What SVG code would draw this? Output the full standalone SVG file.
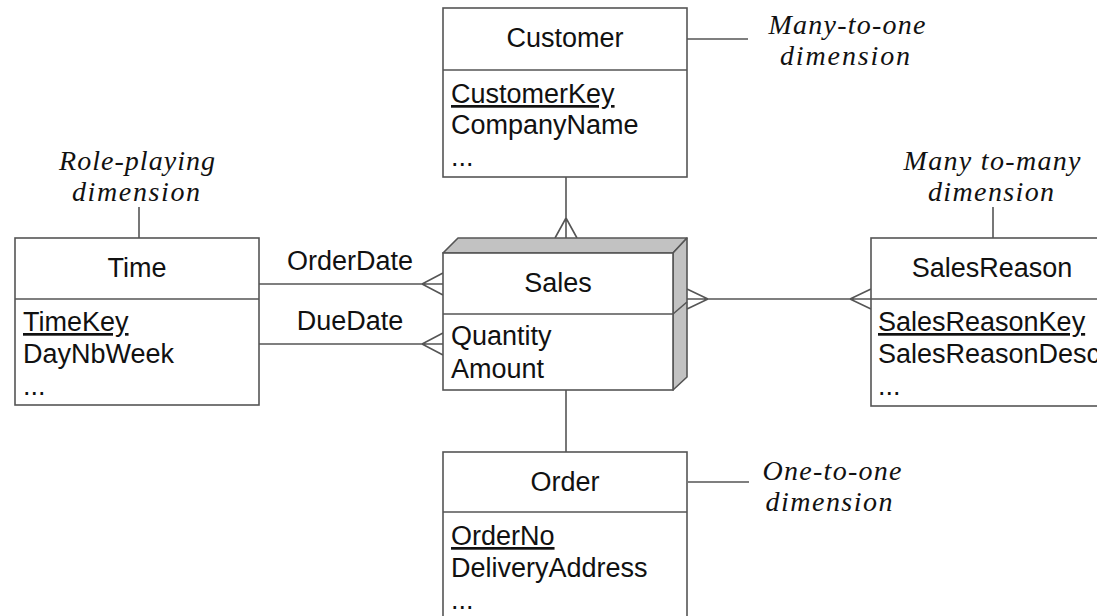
<svg xmlns="http://www.w3.org/2000/svg" width="1097" height="616" viewBox="0 0 1097 616">
<style>
.box{fill:#fff;stroke:#555;stroke-width:1.6}
.ln{fill:none;stroke:#555;stroke-width:1.6}
.t{font-family:"Liberation Sans",Arial,sans-serif;font-size:27px;fill:#111}
.c{text-anchor:middle}
.k{text-decoration:underline}
.n{font-family:"Liberation Serif","Times New Roman",serif;font-style:italic;font-size:28px;fill:#111;text-anchor:middle}
.side{fill:#c2c2c2;stroke:#555;stroke-width:1.6;stroke-linejoin:round}
</style>
<rect width="1097" height="616" fill="#fff"/>
<g id="connectors">
<path class="ln" d="M566,177V238M555,238L566,218L577,238"/>
<path class="ln" d="M259,284H443M443,273L422,284L443,295"/>
<path class="ln" d="M259,344H443M443,333L422,344L443,355"/>
<path class="ln" d="M687,299H871M687,289L708,299L687,309M871,289L850,299L871,309"/>
<path class="ln" d="M566,390V452"/>
<path class="ln" d="M687,39H748"/>
<path class="ln" d="M139,207V238"/>
<path class="ln" d="M993,207V238"/>
<path class="ln" d="M688,482H749"/>
</g>
<g id="customer">
<rect class="box" x="443" y="8" width="244" height="169"/>
<path class="ln" d="M443,70H687"/>
<text class="t c" x="565" y="47">Customer</text>
<text class="t k" x="451" y="103">CustomerKey</text>
<text class="t" x="451" y="134">CompanyName</text>
<text class="t" x="451" y="166">...</text>
</g>
<g id="sales">
<polygon class="side" points="443,253 458,238 687,238 673,253"/>
<polygon class="side" points="673,253 687,238 687,377 673,390"/>
<path class="ln" d="M673,314L687,302"/>
<rect class="box" x="443" y="253" width="230" height="137"/>
<path class="ln" d="M443,314H673"/>
<text class="t c" x="558" y="292">Sales</text>
<text class="t" x="451" y="345">Quantity</text>
<text class="t" x="451" y="378">Amount</text>
</g>
<g id="time">
<rect class="box" x="15" y="238" width="244" height="167"/>
<path class="ln" d="M15,299H259"/>
<text class="t c" x="137" y="277">Time</text>
<text class="t k" x="23" y="331">TimeKey</text>
<text class="t" x="23" y="363">DayNbWeek</text>
<text class="t" x="23" y="395">...</text>
</g>
<g id="salesreason">
<rect class="box" x="871" y="238" width="244" height="168"/>
<path class="ln" d="M871,299H1115"/>
<text class="t c" x="992" y="277">SalesReason</text>
<text class="t k" x="878" y="331">SalesReasonKey</text>
<text class="t" x="878" y="363">SalesReasonDesc</text>
<text class="t" x="878" y="395">...</text>
</g>
<g id="order">
<rect class="box" x="443" y="452" width="244" height="180"/>
<path class="ln" d="M443,512H687"/>
<text class="t c" x="565" y="491">Order</text>
<text class="t k" x="451" y="545">OrderNo</text>
<text class="t" x="451" y="577">DeliveryAddress</text>
<text class="t" x="451" y="609">...</text>
</g>
<g id="labels">
<text class="t c" x="350" y="270">OrderDate</text>
<text class="t c" x="350" y="330">DueDate</text>
<text class="n" x="847" y="34" textLength="157" lengthAdjust="spacing">Many-to-one</text>
<text class="n" x="845" y="65" textLength="130" lengthAdjust="spacing">dimension</text>
<text class="n" x="137" y="170" textLength="156" lengthAdjust="spacing">Role-playing</text>
<text class="n" x="136" y="201" textLength="128" lengthAdjust="spacing">dimension</text>
<text class="n" x="992" y="170" textLength="177" lengthAdjust="spacing">Many to-many</text>
<text class="n" x="991" y="201" textLength="126" lengthAdjust="spacing">dimension</text>
<text class="n" x="832" y="480" textLength="139" lengthAdjust="spacing">One-to-one</text>
<text class="n" x="829" y="511" textLength="127" lengthAdjust="spacing">dimension</text>
</g>
</svg>
